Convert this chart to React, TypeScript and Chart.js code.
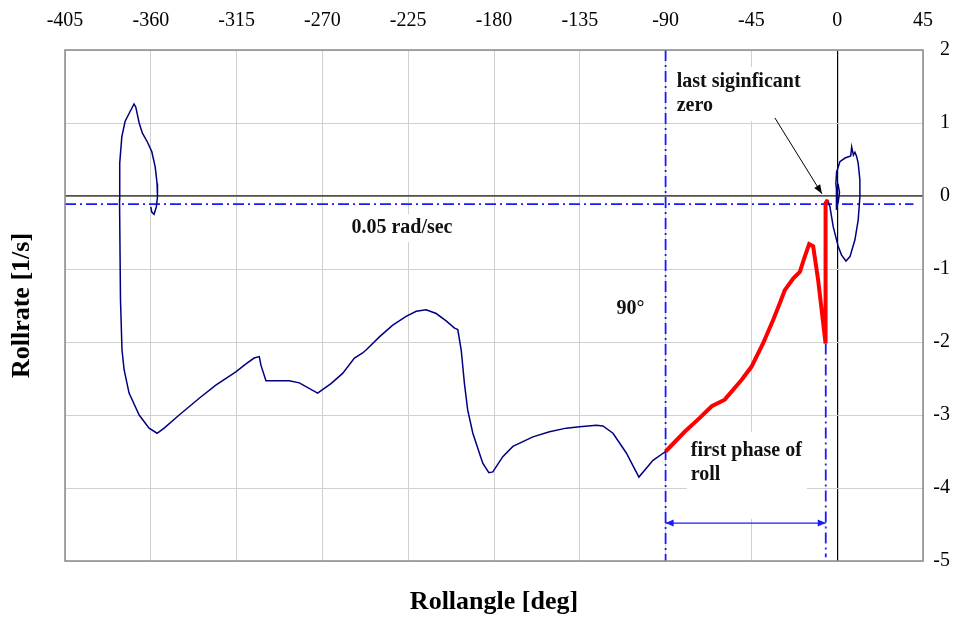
import React, { useEffect, useRef } from "react";
import { Chart, registerables } from "chart.js";

Chart.register(...registerables);

const FONT = "'Liberation Serif', 'Times New Roman', serif";

// Axis ranges
const angleMin = -405;
const angleMax = 45;
const angleStep = 45;
const rateMin = -5;
const rateMax = 2;
const rateStep = 1;

// Roll trace from -90° back to the start of the manoeuvre (roll angle [deg], roll rate [1/s])
const mainAngle = [
  -90, -96.6, -104.0, -110.6, -117.6, -122.9, -126.3, -135.1, -142.1, -150.9,
  -159.6, -170.1, -175.4, -180.6, -182.7, -185.9, -191.1, -193.8, -195.5, -197.2,
  -199.0, -200.7, -205.1, -210.3, -215.6, -220.8, -226.1, -233.1, -240.1, -247.1,
  -248.9, -253.2, -259.4, -265.5, -272.5, -282.1, -287.4, -299.6, -302.2, -303.1,
  -305.8, -310.1, -315.4, -325.9, -334.6, -345.1, -353.0, -356.7, -360.9, -366.1,
  -371.4, -374.0, -375.1, -375.9, -376.4, -376.3, -375.2, -373.5, -371.4, -368.8,
  -367.9, -366.1, -364.4, -361.8, -359.5, -357.7, -356.7, -356.5, -357.1, -358.3, -359.5, -360.0,
];
const mainRate = [
  -3.50, -3.62, -3.85, -3.52, -3.25, -3.15, -3.14, -3.16, -3.18, -3.23,
  -3.30, -3.43, -3.57, -3.78, -3.79, -3.66, -3.25, -2.93, -2.57, -2.11,
  -1.83, -1.81, -1.71, -1.61, -1.56, -1.58, -1.65, -1.77, -1.93, -2.11,
  -2.15, -2.22, -2.43, -2.57, -2.70, -2.56, -2.53, -2.53, -2.32, -2.20,
  -2.22, -2.30, -2.41, -2.59, -2.77, -3.00, -3.18, -3.25, -3.18, -3.00,
  -2.70, -2.38, -2.11, -1.42, -0.05, 0.45, 0.81, 1.02, 1.13, 1.26,
  1.22, 1.00, 0.86, 0.74, 0.61, 0.40, 0.17, -0.01, -0.15, -0.25, -0.22, -0.15,
];

// First phase of the roll (highlighted)
const phaseAngle = [
  -90, -80.0, -72.1, -65.8, -59.0, -50.2, -45.0, -38.9, -33.6, -30.1,
  -27.5, -23.1, -19.6, -17.0, -14.7, -12.6, -10.0, -6.1, -6.1, -5.0,
];
const phaseRate = [
  -3.50, -3.23, -3.04, -2.88, -2.79, -2.52, -2.34, -2.02, -1.70, -1.47,
  -1.29, -1.13, -1.04, -0.83, -0.66, -0.69, -1.15, -2.02, -0.10, -0.05,
];

// Final oscillation around zero
const endAngle = [
  -5.0, -3.8, -2.1, 0.5, 2.3, 4.6, 6.7, 9.3, 11.0, 11.9,
  11.9, 11.0, 10.2, 9.3, 8.5, 7.6, 7.1, 4.1, 1.4, -0.3,
  -0.7, 0, 0.6, 1.2, 0.6, -0.2, -0.5, -0.3, 0,
];
const endRate = [
  -0.05, -0.15, -0.42, -0.69, -0.81, -0.89, -0.83, -0.60, -0.33, -0.01,
  0.22, 0.45, 0.54, 0.60, 0.56, 0.67, 0.55, 0.52, 0.47, 0.33,
  0.17, -0.01, -0.07, 0.05, 0.14, 0.08, -0.05, -0.19, -0.12,
];

// Reference markers
const thresholdRate = -0.11;
const thresholdEndAngle = 40;
const ninetyAngle = -90;
const lastZeroAngle = -6;
const lastZeroTopRate = -2.02;
const markerBottomRate = -4.95;
const phaseArrowRate = -4.48;
const pointerFrom = { angle: -32.7, rate: 1.07 };
const pointerTo = { angle: -8.0, rate: 0.03 };

// Text notes: anchor = left edge / centre of first line, in data units
const notes = [
  { lines: ["last siginficant", "zero"], angle: -84.2, rate: 1.56, pad: [4, 4, 4, 4] },
  { lines: ["0.05 rad/sec"], angle: -254.8, rate: -0.44, pad: [3, 4, 3, 4] },
  { lines: ["90°"], angle: -115.7, rate: -1.55, pad: [3, 4, 3, 4] },
  { lines: ["first phase of", "roll"], angle: -76.8, rate: -3.49, pad: [8, 5, 33, 4] },
];

const pts = (xs: number[], ys: number[]) => xs.map((x, i) => ({ x, y: ys[i] }));

const DASH_DOT = [11, 4, 2, 4];
const REF_BLUE = "#1a1aff";

function arrowHead(
  ctx: CanvasRenderingContext2D,
  x0: number, y0: number, x1: number, y1: number,
  len: number, half: number
) {
  const a = Math.atan2(y1 - y0, x1 - x0);
  const c = Math.cos(a);
  const s = Math.sin(a);
  ctx.beginPath();
  ctx.moveTo(x1, y1);
  ctx.lineTo(x1 - len * c + half * s, y1 - len * s - half * c);
  ctx.lineTo(x1 - len * c - half * s, y1 - len * s + half * c);
  ctx.closePath();
  ctx.fill();
}

const LINE_GAP = 24;
const NOTE_FONT = `bold 20px ${FONT}`;

const overlay = {
  id: "overlay",
  beforeDatasetsDraw(chart: any) {
    const { ctx, scales } = chart;
    const xs = scales.x;
    const ys = scales.y;
    ctx.save();
    ctx.font = NOTE_FONT;
    ctx.fillStyle = "#ffffff";
    for (const n of notes) {
      const px = xs.getPixelForValue(n.angle);
      const py = ys.getPixelForValue(n.rate);
      const w = Math.max(...n.lines.map((l) => ctx.measureText(l).width));
      const top = py - 11 - n.pad[0];
      const bottom = py + (n.lines.length - 1) * LINE_GAP + 11 + n.pad[2];
      ctx.fillRect(px - n.pad[3], top, w + n.pad[1] + n.pad[3], bottom - top);
    }
    ctx.restore();
  },
  afterDatasetsDraw(chart: any) {
    const { ctx, chartArea, scales } = chart;
    const xs = scales.x;
    const ys = scales.y;
    ctx.save();

    // plot frame
    ctx.strokeStyle = "#8a8a8a";
    ctx.lineWidth = 1.5;
    ctx.strokeRect(
      chartArea.left,
      chartArea.top,
      chartArea.right - chartArea.left,
      chartArea.bottom - chartArea.top
    );

    // heads of the phase-length arrow
    const ay = ys.getPixelForValue(phaseArrowRate);
    const ax0 = xs.getPixelForValue(ninetyAngle);
    const ax1 = xs.getPixelForValue(lastZeroAngle);
    ctx.fillStyle = REF_BLUE;
    arrowHead(ctx, ax0 + 20, ay, ax0, ay, 8, 3.5);
    arrowHead(ctx, ax1 - 20, ay, ax1, ay, 8, 3.5);

    // head of the pointer to the last zero crossing
    ctx.fillStyle = "#000";
    arrowHead(
      ctx,
      xs.getPixelForValue(pointerFrom.angle), ys.getPixelForValue(pointerFrom.rate),
      xs.getPixelForValue(pointerTo.angle), ys.getPixelForValue(pointerTo.rate),
      9, 3.5
    );

    // notes
    ctx.font = NOTE_FONT;
    ctx.fillStyle = "#111";
    ctx.textAlign = "left";
    ctx.textBaseline = "middle";
    for (const n of notes) {
      const px = xs.getPixelForValue(n.angle);
      const py = ys.getPixelForValue(n.rate);
      n.lines.forEach((l, i) => ctx.fillText(l, px, py + i * LINE_GAP));
    }
    ctx.restore();
  },
  afterDraw(chart: any) {
    const { ctx, chartArea } = chart;
    ctx.save();
    ctx.fillStyle = "#000";
    ctx.font = `bold 26px ${FONT}`;
    ctx.textAlign = "center";
    ctx.textBaseline = "middle";
    ctx.fillText("Rollangle [deg]", (chartArea.left + chartArea.right) / 2, 602);
    ctx.translate(22, (chartArea.top + chartArea.bottom) / 2);
    ctx.rotate(-Math.PI / 2);
    ctx.fillText("Rollrate [1/s]", 0, 0);
    ctx.restore();
  },
};

export default function App() {
  const ref = useRef<HTMLCanvasElement>(null);

  useEffect(() => {
    const canvas = ref.current;
    if (!canvas) return;
    const line = (
      data: { x: number; y: number }[],
      color: string,
      width: number,
      order: number,
      dash: number[] = []
    ) => ({
      data,
      showLine: true,
      borderColor: color,
      backgroundColor: color,
      borderWidth: width,
      borderDash: dash,
      pointRadius: 0,
      pointHoverRadius: 0,
      fill: false,
      tension: 0,
      order,
    });

    const chart = new Chart(canvas, {
      type: "scatter",
      data: {
        datasets: [
          line(pts(phaseAngle, phaseRate), "#ff0000", 4, 0),
          line(pts(mainAngle, mainRate), "#000080", 1.5, 1),
          line(pts(endAngle, endRate), "#000080", 1.5, 1),
          line(
            [
              { x: angleMin, y: thresholdRate },
              { x: thresholdEndAngle, y: thresholdRate },
            ],
            REF_BLUE, 1.8, 2, DASH_DOT
          ),
          line(
            [
              { x: ninetyAngle, y: rateMax },
              { x: ninetyAngle, y: rateMin },
            ],
            REF_BLUE, 1.8, 2, DASH_DOT
          ),
          line(
            [
              { x: lastZeroAngle, y: lastZeroTopRate },
              { x: lastZeroAngle, y: markerBottomRate },
            ],
            REF_BLUE, 1.8, 2, DASH_DOT
          ),
          line(
            [
              { x: ninetyAngle, y: phaseArrowRate },
              { x: lastZeroAngle, y: phaseArrowRate },
            ],
            REF_BLUE, 1.3, 2
          ),
          line(
            [
              { x: pointerFrom.angle, y: pointerFrom.rate },
              { x: pointerTo.angle, y: pointerTo.rate },
            ],
            "#000", 1, 2
          ),
        ],
      },
      options: {
        responsive: false,
        devicePixelRatio: 1,
        animation: false,
        events: [],
        layout: { padding: { left: 65, right: 7, top: 0, bottom: 56 } },
        plugins: { legend: { display: false }, tooltip: { enabled: false } },
        scales: {
          x: {
            type: "linear",
            position: "top",
            min: angleMin,
            max: angleMax,
            border: { display: false },
            grid: {
              drawTicks: false,
              color: (c: any) => (c.tick && c.tick.value === 0 ? "#000" : "#d0d0d0"),
              lineWidth: (c: any) => (c.tick && c.tick.value === 0 ? 1.2 : 1),
            },
            ticks: {
              stepSize: angleStep,
              autoSkip: false,
              maxRotation: 0,
              padding: 17,
              color: "#000",
              font: { family: FONT, size: 20 },
            },
            afterFit: (s: any) => {
              s.height = 50;
            },
          },
          y: {
            type: "linear",
            position: "right",
            min: rateMin,
            max: rateMax,
            border: { display: false },
            grid: {
              drawTicks: false,
              color: (c: any) => (c.tick && c.tick.value === 0 ? "#505050" : "#d0d0d0"),
              lineWidth: (c: any) => (c.tick && c.tick.value === 0 ? 1.8 : 1),
            },
            ticks: {
              stepSize: rateStep,
              crossAlign: "far",
              color: "#000",
              font: { family: FONT, size: 20 },
            },
            afterFit: (s: any) => {
              s.width = 27;
            },
          },
        },
      } as any,
      plugins: [overlay],
    });
    return () => chart.destroy();
  }, []);

  return (
    <div
      style={{
        position: "absolute",
        left: 0,
        top: 0,
        width: 957,
        height: 617,
        background: "#ffffff",
      }}
    >
      <canvas
        ref={ref}
        width={957}
        height={617}
        style={{ display: "block", width: 957, height: 617 }}
      />
    </div>
  );
}
